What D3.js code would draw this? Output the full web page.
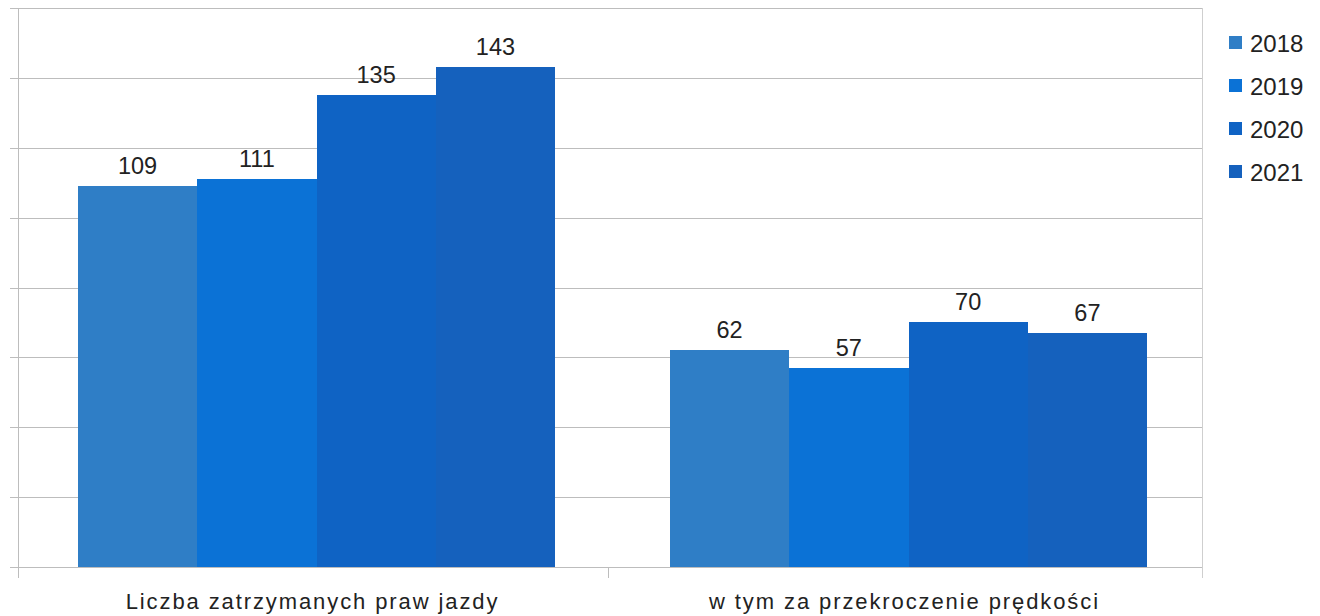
<!DOCTYPE html>
<html>
<head>
<meta charset="utf-8">
<script src="https://cdn.jsdelivr.net/npm/d3@7"></script>
<style>
html,body{margin:0;padding:0;background:#fff;}
svg{display:block;font-family:"Liberation Sans",Arial,sans-serif;}
</style>
</head>
<body>
<svg id="chart" width="1320" height="616"></svg>
<script>
const categories = ["Liczba zatrzymanych praw jazdy", "w tym za przekroczenie prędkości"];
const years = ["2018", "2019", "2020", "2021"];
const values2018 = [109, 62];
const values2019 = [111, 57];
const values2020 = [135, 70];
const values2021 = [143, 67];
const yTicks = [0, 20, 40, 60, 80, 100, 120, 140, 160];
const colors = ["#2f7ec6", "#0b72d6", "#0f63c4", "#1561bd"];

(function () {
const seriesValues = [values2018, values2019, values2020, values2021];
const data = categories.map((c, i) => ({
  category: c,
  values: years.map((y, j) => ({ year: y, value: seriesValues[j][i] }))
}));

const svg = d3.select("#chart");
const mLeft = 18, mRight = 1202, mTop = 8, mBottom = 567;

const x0 = d3.scaleBand().domain(categories).range([mLeft + 2.5, mRight + 2.5])
  .paddingInner(0.194).paddingOuter(0.097);
const x1 = d3.scaleBand().domain(years).range([0, x0.bandwidth()]).padding(0);
const y = d3.scaleLinear().domain([0, 160]).range([mBottom, mTop]);
const color = d3.scaleOrdinal().domain(years).range(colors);

// gridlines
svg.append("g").selectAll("line").data(yTicks).join("line")
  .attr("x1", mLeft - 8).attr("x2", mRight)
  .attr("y1", d => Math.round(y(d)) + 0.5).attr("y2", d => Math.round(y(d)) + 0.5)
  .attr("stroke", "#bdbdbd").attr("stroke-width", 1);

// left axis line
svg.append("line").attr("x1", mLeft + 0.5).attr("x2", mLeft + 0.5)
  .attr("y1", mTop).attr("y2", mBottom + 11)
  .attr("stroke", "#bdbdbd");
// right border
svg.append("line").attr("x1", mRight + 0.5).attr("x2", mRight + 0.5)
  .attr("y1", mTop).attr("y2", mBottom + 11)
  .attr("stroke", "#cfcfcf");
// middle category tick
const midX = Math.round((mLeft + mRight) / 2 - 2) + 0.5;
svg.append("line")
  .attr("x1", midX).attr("x2", midX)
  .attr("y1", mBottom).attr("y2", mBottom + 11)
  .attr("stroke", "#bdbdbd");

// bars
const groups = svg.append("g").selectAll("g").data(data).join("g");
groups.selectAll("rect").data(d => d.values.map(v => ({ ...v, cat: d.category }))).join("rect")
  .attr("x", d => Math.round(x0(d.cat) + x1(d.year)))
  .attr("width", d => Math.round(x0(d.cat) + x1(d.year) + x1.bandwidth()) - Math.round(x0(d.cat) + x1(d.year)))
  .attr("y", d => Math.round(y(d.value)))
  .attr("height", d => Math.round(y(0)) - Math.round(y(d.value)))
  .attr("fill", d => color(d.year))
  .attr("shape-rendering", "crispEdges");
groups.selectAll("text").data(d => d.values.map(v => ({ ...v, cat: d.category }))).join("text")
  .attr("x", d => x0(d.cat) + x1(d.year) + x1.bandwidth() / 2)
  .attr("y", d => y(d.value) - 12)
  .attr("text-anchor", "middle")
  .attr("font-size", 23.5)
  .attr("fill", "#222")
  .text(d => d.value);

// category labels
svg.append("g").selectAll("text").data(categories).join("text")
  .attr("x", d => x0(d) + x0.bandwidth() / 2 - 4)
  .attr("y", 609)
  .attr("text-anchor", "middle")
  .attr("font-size", 22)
  .attr("letter-spacing", "1.9px")
  .attr("fill", "#222")
  .text(d => d);

// legend
const lg = svg.append("g").selectAll("g").data(years).join("g")
  .attr("transform", (d, i) => `translate(1229,${43 + i * 43})`);
lg.append("rect").attr("x", 0).attr("y", -7).attr("width", 13).attr("height", 13)
  .attr("fill", d => color(d));
lg.append("text").attr("x", 21).attr("y", 8.5).attr("font-size", 24)
  .attr("fill", "#222").text(d => d);
})();
</script>
</body>
</html>
